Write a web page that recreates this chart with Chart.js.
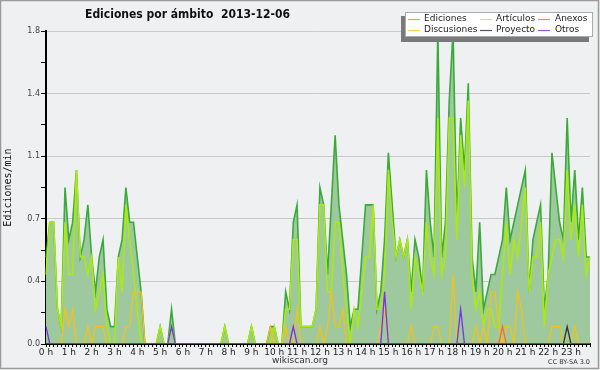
<!DOCTYPE html>
<html>
<head>
<meta charset="utf-8">
<script src="https://cdn.jsdelivr.net/npm/chart.js@4.4.0/dist/chart.umd.min.js"></script>
<style>
  html, body { margin: 0; padding: 0; background: #eff0f1; }
</style>
</head>
<body>
<canvas id="grafico" width="600" height="370"></canvas>
<script>
/* ================= DATOS (ediciones/min, tramos de 10 min) ================= */
const titulo = "Ediciones por ámbito  2013-12-06";
const tituloEje = "Ediciones/min";
const horas = ["0 h","1 h","2 h","3 h","4 h","5 h","6 h","7 h","8 h","9 h","10 h","11 h",
  "12 h","13 h","14 h","15 h","16 h","17 h","18 h","19 h","20 h","21 h","22 h","23 h"];
const ticksY = [0, 0.36, 0.72, 1.08, 1.44, 1.8];
const series = ["Ediciones", "Artículos", "Anexos", "Discusiones", "Proyecto", "Otros"];

const ediciones = [
  0.5,0.7,0.7,0.2,0.1,0.9,  0.6,0.7,1.0,0.5,0.6,0.8,  0.5,0.3,0.5,0.6,0.2,0.1,
  0.1,0.5,0.6,0.9,0.7,0.7,  0.5,0.3,0,0,0,0,          0.1,0,0,0.2,0,0,
  0,0,0,0,0,0,              0,0,0,0,0,0.1,            0,0,0,0,0,0,
  0.1,0,0,0,0,0.1,          0.1,0,0,0.3,0.2,0.7,      0.8,0.1,0.1,0.1,0.1,0.2,
  0.9,0.8,0.4,0.8,1.2,0.8,  0.6,0.4,0.1,0.2,0.2,0.5,  0.8,0.8,0.8,0.2,0.3,0.6,
  1.1,0.8,0.5,0.6,0.5,0.6,  0.3,0.6,0.5,0.3,1.0,0.7,  0.5,1.8,0.5,0.7,1.4,1.8,
  0.7,1.3,1.0,1.5,0.5,0.3,  0.7,0.2,0.3,0.4,0.4,0.5,  0.6,0.9,0.6,0.7,0.8,0.9,
  1.0,0.3,0.6,0.7,0.8,0.2,  0.4,1.1,0.9,0.7,0.6,1.3,  0.7,1.0,0.6,0.9,0.5,0.5
];
const articulos = [
  0.4,0.7,0.7,0.2,0.1,0.7,  0.4,0.4,1.0,0.5,0.5,0.4,  0.5,0.2,0.3,0.4,0.1,0,
  0,0.5,0.3,0.8,0.6,0.4,    0.2,0,0,0,0,0,            0.1,0,0,0.1,0,0,
  0,0,0,0,0,0,              0,0,0,0,0,0.1,            0,0,0,0,0,0,
  0.1,0,0,0,0,0,            0.1,0,0,0.2,0.2,0.6,      0.6,0.1,0.1,0.1,0.1,0.2,
  0.8,0.8,0.3,0.3,0.7,0.7,  0.4,0.2,0,0.2,0.1,0.3,    0.5,0.5,0.8,0.2,0.2,0.4,
  1.0,0.7,0.5,0.6,0.5,0.6,  0.2,0.5,0.4,0.3,0.7,0.5,  0.4,1.3,0.4,0.5,1.3,1.3,
  0.6,1.2,0.9,1.4,0.4,0.2,  0.3,0.1,0.2,0.2,0.1,0.1,  0.4,0.7,0.4,0.6,0.5,0.7,
  0.9,0.3,0.5,0.5,0.7,0.1,  0.4,0.5,0.6,0.6,0.5,1.0,  0.6,0.8,0.5,0.8,0.4,0.5
];
const discusiones = [
  0,0,0,0,0,0.2,            0.1,0.2,0,0,0,0.1,        0,0.1,0.1,0.1,0,0,
  0,0,0,0.1,0.1,0.3,        0.3,0.3,0,0,0,0,          0,0,0,0,0,0,
  0,0,0,0,0,0,              0,0,0,0,0,0,              0,0,0,0,0,0,
  0,0,0,0,0,0.1,            0,0,0,0.1,0,0,            0.2,0,0,0,0,0,
  0.1,0,0.1,0.3,0.1,0.1,    0.2,0,0,0,0,0,            0,0,0,0,0.1,0.2,
  0,0,0,0,0,0,              0.1,0,0,0,0,0,            0.1,0.1,0,0,0,0.4,
  0,0,0,0,0,0.1,            0,0.1,0,0.3,0.3,0.1,      0,0.1,0.1,0,0.3,0.2,
  0,0,0,0,0,0,              0,0.1,0.1,0.1,0,0,        0,0.1,0,0,0,0
];
const anexos = [
  0,0,0,0,0,0, 0,0,0,0,0,0, 0,0,0,0,0,0, 0,0,0,0,0,0, 0,0,0,0,0,0, 0,0,0,0,0,0,
  0,0,0,0,0,0, 0,0,0,0,0,0, 0,0,0,0,0,0, 0,0,0,0,0,0, 0,0,0,0,0,0, 0,0,0,0,0,0,
  0,0,0,0,0,0, 0,0,0,0,0,0, 0,0,0,0,0,0, 0,0,0,0,0,0, 0,0,0,0,0,0, 0,0,0,0,0,0,
  0,0,0,0,0,0, 0,0,0,0,0,0, 0.1,0,0,0,0,0, 0,0,0,0,0,0, 0,0,0,0,0,0, 0,0,0,0,0,0
];
const proyecto = [
  0,0,0,0,0,0, 0,0,0,0,0,0, 0,0,0,0,0,0, 0,0,0,0,0,0, 0,0,0,0,0,0, 0,0,0,0,0,0,
  0,0,0,0,0,0, 0,0,0,0,0,0, 0,0,0,0,0,0, 0,0,0,0,0,0, 0,0,0,0,0,0, 0,0,0,0,0,0,
  0,0,0,0,0,0, 0,0,0,0,0,0, 0,0,0,0,0,0, 0,0,0,0,0,0, 0,0,0,0,0,0, 0,0,0,0,0,0,
  0,0,0,0,0,0, 0,0,0,0,0,0, 0,0,0,0,0,0, 0,0,0,0,0,0, 0,0,0,0,0,0.1, 0,0,0,0,0,0
];
const otros = [
  0.1,0,0,0,0,0, 0,0,0,0,0,0, 0,0,0,0,0,0, 0,0,0,0,0,0, 0,0,0,0,0,0, 0,0,0,0.1,0,0,
  0,0,0,0,0,0, 0,0,0,0,0,0, 0,0,0,0,0,0, 0,0,0,0,0,0, 0,0,0,0,0,0.1, 0,0,0,0,0,0,
  0,0,0,0,0,0, 0,0,0,0,0,0, 0,0,0,0,0,0.3, 0,0,0,0,0,0, 0,0,0,0,0,0, 0,0,0,0,0,0,
  0,0.2,0,0,0,0, 0,0,0,0,0,0, 0,0,0,0,0,0, 0,0,0,0,0,0, 0,0,0,0,0,0, 0,0,0,0,0,0
];

/* ================= COLORES ================= */
const colorLinea = ["#3aaa3a", "#aaea10", "#ff6a30", "#f2c21a", "#333333", "#7a30e8"];
const colorLeyenda = ["#80d080", "#c8ee60", "#ff8855", "#ffd050", "#555555", "#9955ee"];
const fondo = "#eff0f1";

/* etiquetas de 10 minutos */
const tramos = [];
for (let h = 0; h < 24; h++) {
  for (let m = 0; m < 60; m += 10) tramos.push(h + ":" + (m < 10 ? "0" : "") + m);
}

/* ================= PLUGIN DECORACIÓN ================= */
const decoracion = {
  id: "decoracion",
  beforeDraw(chart) {
    const c = chart.ctx;
    c.save();
    c.fillStyle = fondo;
    c.fillRect(0, 0, chart.width, chart.height);
    c.strokeStyle = "#9a9a9a";
    c.lineWidth = 1.5;
    c.strokeRect(0.5, 0.5, 598, 368);
    c.restore();
  },
  afterDraw(chart) {
    const c = chart.ctx;
    c.save();

    // título
    c.fillStyle = "#111";
    c.font = "bold 12.5px 'DejaVu Sans Condensed', 'Liberation Sans', sans-serif";
    c.textBaseline = "middle";
    c.textAlign = "left";
    const w = c.measureText(titulo).width;
    c.translate(85, 15);
    c.scale(205 / w, 1);
    c.fillText(titulo, 0, 0);
    c.setTransform(1, 0, 0, 1, 0, 0);

    // leyenda
    c.fillStyle = "#7a7a7a";
    c.fillRect(401, 16, 188, 26);
    c.fillStyle = "#ffffff";
    c.fillRect(405, 12, 188, 25);
    c.strokeStyle = "#aaaaaa";
    c.lineWidth = 1;
    c.strokeRect(405.5, 12.5, 187, 24);

    const cols = [[408, 424], [480, 496], [538, 555]];
    const filas = [19, 29.5];
    const orden = [[0, 3], [1, 4], [2, 5]];
    c.font = "9px 'DejaVu Sans', sans-serif";
    c.textAlign = "left";
    orden.forEach((col, ci) => {
      col.forEach((s, fi) => {
        const y = filas[fi];
        c.strokeStyle = colorLeyenda[s];
        c.lineWidth = 1.2;
        c.beginPath();
        c.moveTo(cols[ci][0], Math.round(y) + 0.5);
        c.lineTo(cols[ci][0] + 12, Math.round(y) + 0.5);
        c.stroke();
        c.fillStyle = "#222";
        c.fillText(series[s], cols[ci][1], y);
      });
    });

    // pie
    c.fillStyle = "#333";
    c.font = "9px 'DejaVu Sans', sans-serif";
    c.textAlign = "center";
    c.fillText("wikiscan.org", 300, 361);
    c.font = "6.5px 'DejaVu Sans', sans-serif";
    c.textAlign = "right";
    c.fillText("CC BY-SA 3.0", 590, 362);
    c.restore();
  }
};

/* ================= GRÁFICO ================= */
const valores = [ediciones, articulos, anexos, discusiones, proyecto, otros];
const ordenDibujo = [6, 5, 3, 4, 2, 1];

const datasets = valores.map((v, i) => ({
  label: series[i],
  data: v,
  borderColor: colorLinea[i],
  backgroundColor: i === 0 ? "#9ec99e" : colorLinea[i],
  borderWidth: i < 2 ? 1.6 : 1.3,
  fill: i === 0 ? "origin" : false,
  pointRadius: 0,
  tension: 0,
  order: ordenDibujo[i]
}));

new Chart(document.getElementById("grafico"), {
  type: "line",
  data: { labels: tramos, datasets: datasets },
  options: {
    responsive: false,
    animation: false,
    layout: { padding: { top: 31, right: 10, left: 0, bottom: 0 } },
    plugins: { legend: { display: false }, tooltip: { enabled: false } },
    scales: {
      x: {
        offset: false,
        afterFit: s => { s.height = 26; },
        grid: { drawOnChartArea: false, drawTicks: true, tickLength: 3, tickColor: "#000", lineWidth: 1 },
        border: { color: "#000", width: 2 },
        ticks: {
          autoSkip: false,
          maxRotation: 0,
          padding: 0,
          color: "#222",
          font: { family: "DejaVu Sans", size: 9 },
          callback: (v, i) => (i % 6 === 0 ? horas[i / 6] : "")
        }
      },
      y: {
        min: 0,
        max: 1.8,
        afterFit: s => { s.width = 46; },
        afterBuildTicks: s => {
          const t = [];
          ticksY.forEach((v, k) => {
            t.push({ value: v, major: true });
            if (k < ticksY.length - 1) t.push({ value: (v + ticksY[k + 1]) / 2, major: false });
          });
          s.ticks = t;
        },
        grid: {
          color: c => (c.tick && c.tick.major ? "#c9c9c9" : "rgba(0,0,0,0)"),
          tickColor: "#000",
          tickLength: 5,
          lineWidth: 1
        },
        border: { color: "#000", width: 2 },
        ticks: {
          padding: 1,
          color: "#444",
          font: { family: "DejaVu Sans", size: 8 },
          callback: function (v, i, t) { return t[i].major ? Number(v).toFixed(1) : ""; }
        },
        title: {
          display: true,
          text: tituloEje,
          color: "#111",
          padding: { top: 2, bottom: 0 },
          font: { family: "DejaVu Sans Mono", size: 10 }
        }
      }
    }
  },
  plugins: [decoracion]
});
</script>
</body>
</html>
